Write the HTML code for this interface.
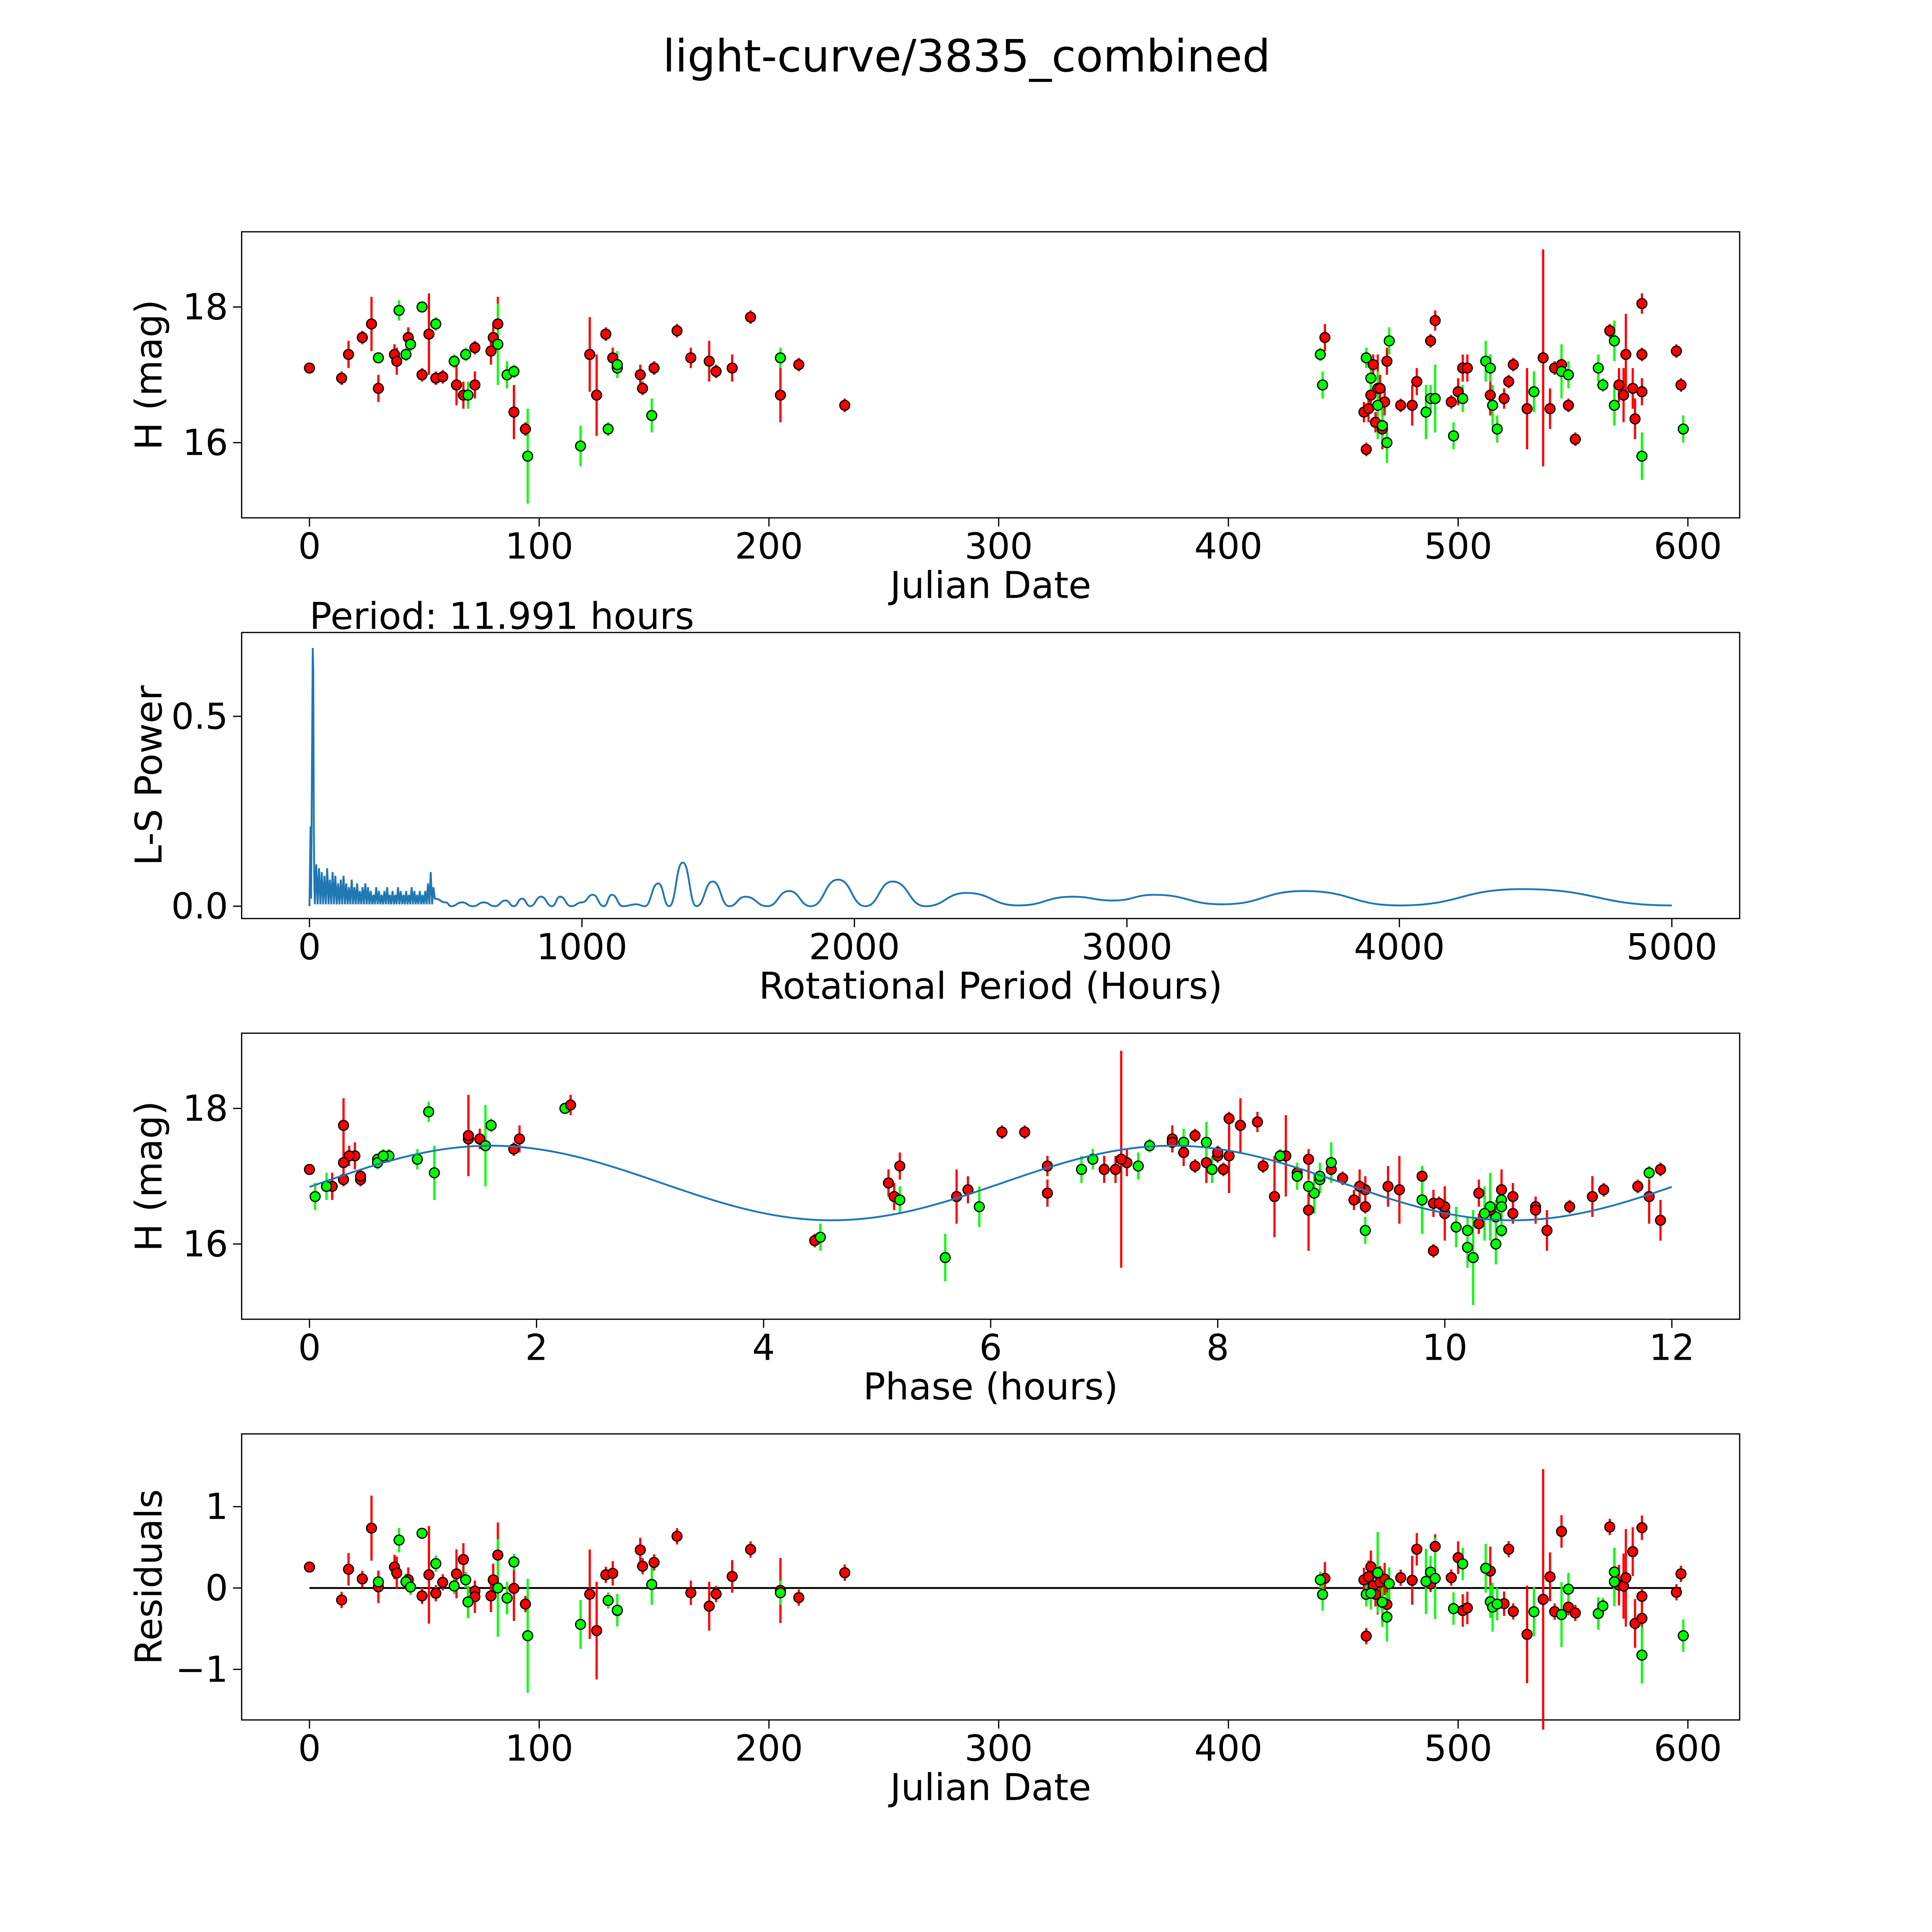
<!DOCTYPE html>
<html><head><meta charset="utf-8">
<style>
html,body{margin:0;padding:0;background:#fff;overflow:hidden;width:100vw;height:100vh;}
svg{display:block;width:100vw;height:100vh;}
text{font-family:"DejaVu Sans","Liberation Sans",sans-serif;fill:#000;}
</style></head>
<body>
<svg id="fig" xmlns="http://www.w3.org/2000/svg" viewBox="0 0 1567 1567" preserveAspectRatio="none">
<rect width="1567" height="1567" fill="#fff"/>
<text x="784" y="58" font-size="36" text-anchor="middle">light-curve/3835_combined</text>
<text x="251" y="510" font-size="30">Period: 11.991 hours</text>
<g id="g1"></g>
<g id="g2"></g>
<g id="g3"></g>
<g id="g4"></g>
</svg>
<script>
// ---- observation data ----
const times = [0,14,17,23,27,30,37,38,43,49,52,55,58,64,67,72,72,79,80,82,89,94,122,125,129,132,144,145,150,160,166,174,177,184,192,205,213,233,
39,42,44,30,49,55,63,68,69,82,86,89,95,118,130,134,134,149,205,
442,459,460,461,462,463,464,465,466,467,468,469,475,480,482,488,490,497,500,502,504,514,520,522,524,530,537,540,542,545,548,551,566,570,572,573,576,577,580,580,580,595,597,
440,441,460,462,465,467,469,470,486,488,490,498,502,512,514,515,517,533,545,548,561,563,568,568,580,598];
const mags = [17.1,16.95,17.3,17.55,17.75,16.8,17.3,17.2,17.55,17.0,17.6,16.95,16.97,16.85,16.7,17.4,16.85,17.35,17.55,17.75,16.45,16.2,17.3,16.7,17.6,17.25,17.0,16.8,17.1,17.65,17.25,17.2,17.05,17.1,17.85,16.7,17.15,16.55,
17.95,17.3,17.45,17.25,18.0,17.75,17.2,17.3,16.7,17.45,17.0,17.05,15.8,15.95,16.2,17.1,17.15,16.4,17.25,
17.55,16.45,15.9,16.5,16.7,17.15,16.3,16.8,16.8,16.2,16.6,17.2,16.55,16.55,16.9,17.5,17.8,16.6,16.75,17.1,17.1,16.7,16.65,16.9,17.15,16.5,17.25,16.5,17.1,17.15,16.55,16.05,17.65,16.85,16.7,17.3,16.8,16.35,16.75,18.05,17.3,17.35,16.85,
17.3,16.85,17.25,16.95,16.55,16.25,16.0,17.5,16.45,16.65,16.65,16.1,16.65,17.2,17.1,16.55,16.2,16.75,17.05,17.0,17.1,16.85,17.5,16.55,15.8,16.2];
const errs = [0.05,0.1,0.2,0.1,0.4,0.2,0.15,0.2,0.15,0.1,0.6,0.1,0.1,0.3,0.2,0.1,0.2,0.2,0.2,0.4,0.4,0.1,0.55,0.6,0.1,0.15,0.15,0.1,0.1,0.1,0.15,0.3,0.1,0.2,0.1,0.4,0.1,0.1,
0.15,0.1,0.1,0.05,0.05,0.1,0.1,0.1,0.2,0.6,0.2,0.1,0.7,0.3,0.1,0.1,0.2,0.25,0.15,
0.2,0.15,0.1,0.2,0.2,0.15,0.15,0.5,0.2,0.3,0.2,0.2,0.1,0.3,0.2,0.1,0.15,0.1,0.2,0.2,0.2,0.3,0.15,0.1,0.1,0.6,1.6,0.3,0.1,0.2,0.1,0.1,0.1,0.25,0.4,0.6,0.3,0.3,0.2,0.15,0.1,0.1,0.1,
0.1,0.2,0.15,0.2,0.5,0.3,0.3,0.2,0.4,0.2,0.5,0.2,0.2,0.3,0.2,0.3,0.2,0.3,0.4,0.2,0.2,0.1,0.3,0.3,0.35,0.2];
const bands = "RRRRRRRRRRRRRRRRRRRRRRRRRRRRRRRRRRRRRR" + "GGGGGGGGGGGGGGGGGGG" + "RRRRRRRRRRRRRRRRRRRRRRRRRRRRRRRRRRRRRRRRRRR" + "GGGGGGGGGGGGGGGGGGGGGGGGGG";
const phases = [0.0,0.45,0.4,1.4,0.3,9.3,0.35,0.3,1.5,0.45,1.4,0.3,9.1,9.5,10.6,1.8,0.2,7.7,7.6,8.2,10.0,10.2,8.1,8.5,7.8,8.8,9.8,11.4,11.9,6.3,6.9,7.9,8.7,9.0,8.1,11.8,8.4,10.8,
1.05,0.7,7.4,0.6,2.25,1.6,0.6,0.65,0.05,1.55,8.7,11.8,10.25,10.2,10.5,7.1,7.3,10.45,6.9,
1.85,10.6,9.9,10.8,5.15,6.5,10.3,9.6,5.8,10.9,9.9,7.2,11.1,10.0,5.1,7.6,8.35,9.95,10.3,7.1,7.0,11.3,9.2,5.1,7.8,8.8,7.15,10.4,8.05,5.2,9.3,4.45,6.1,9.25,5.7,8.6,10.5,11.9,6.5,2.3,8.0,8.0,11.7,
8.55,0.15,0.95,8.9,10.4,10.1,10.45,7.7,10.35,5.2,9.8,4.5,10.5,9.0,6.8,5.9,10.2,8.85,1.1,8.9,7.95,8.8,7.9,10.5,5.6,9.3];
// ---- periodogram data ----
const noiseStart = 20, noiseStep = 10;
const noisePeaks = [0.11,0.1,0.09,0.08,0.1,0.07,0.09,0.08,0.06,0.07,0.08,0.06,0.05,0.07,0.05,0.06,0.04,0.05,0.06,0.05,0.04,0.03,0.05,0.04,0.03,0.04,0.05,0.03,0.04,0.03,0.05,0.04,0.03,0.04,0.03,0.05,0.04,0.03,0.04,0.03,0.04,0.06,0.09,0.05];
const lsPeriods = [0,4,6,9,12,14,16,18];
const lsPowers = [0,0.21,0.02,0.35,0.68,0.62,0.2,0.05];
const smoothPeriods = [460,500,520,560,600,640,680,720,750,780,810,850,890,920,960,1000,1040,1080,1110,1150,1200,1230,1280,1320,1370,1420,1480,1540,1600,1680,1760,1840,1940,2040,2140,2260,2410,2600,2800,2950,3100,3350,3650,4000,4450,5000];
const smoothPowers = [0.02,0.01,0,0.01,0,0.01,0,0.015,0,0.02,0,0.025,0,0.025,0,0.01,0.03,0,0.03,0,0.005,0,0.06,0,0.115,0,0.065,0,0.025,0,0.04,0,0.07,0,0.065,0,0.035,0.002,0.025,0.015,0.03,0.005,0.04,0.002,0.045,0.002];
// ---- tick labels ----
const dateTicks = [0,100,200,300,400,500,600];
const magTicks = [16,18];
const powerTicks = [0.0,0.5];
const periodTicks = [0,1000,2000,3000,4000,5000];
const phaseTicks = [0,2,4,6,8,10,12];
const residTicks = [-1,0,1];
const modelMean = 16.9, modelAmp = 0.55, modelPeriod = 6.0, modelOffset = 0.1;

const NS="http://www.w3.org/2000/svg";
function mk(tag, attrs, parent){const e=document.createElementNS(NS,tag);for(const k in attrs)e.setAttribute(k,attrs[k]);parent.appendChild(e);return e;}
function model(p){return modelMean+modelAmp*Math.sin(2*Math.PI*(p-modelOffset)/modelPeriod);}
function fmt(v){return v<0?'\u2212'+Math.abs(v):String(v);}
function axes(g,box,xs,ys,xt,yt,xl,yl,yfmt){
  const [x0,y0,x1,y1]=box;
  const r=mk('rect',{x:x0,y:y0,width:x1-x0,height:y1-y0,fill:'none',stroke:'#000','stroke-width':1},g);
  
  
  xt.forEach(v=>{const x=xs(v);
    mk('line',{x1:x,x2:x,y1:y1,y2:y1+7,stroke:'#000','stroke-width':1},g);
    const t=mk('text',{x:x,y:y1+33,'font-size':29,'text-anchor':'middle'},g);t.textContent=fmt(v);
    
    });
  yt.forEach(v=>{const y=ys(v);
    mk('line',{x1:x0-7,x2:x0,y1:y,y2:y,stroke:'#000','stroke-width':1},g);
    const t=mk('text',{x:x0-11,y:y+10,'font-size':29,'text-anchor':'end'},g);t.textContent=yfmt?yfmt(v):fmt(v);
    
    });
  const a=mk('text',{x:(x0+x1)/2,y:y1+65,'font-size':30,'text-anchor':'middle'},g);a.textContent=xl;
  
  
  const b=mk('text',{x:0,y:0,'font-size':30,'text-anchor':'middle',transform:`translate(${x0-65},${(y0+y1)/2}) rotate(-90)`},g);b.textContent=yl;
  
  
}
function points(g,xv,yv,ev,xs,ys){
  for(let i=0;i<xv.length;i++){
    const c=bands[i]==='G'?'#00ff00':'#ff0000';
    const x=xs(xv[i]);
    const l=mk('line',{x1:x,x2:x,y1:ys(yv[i]-ev[i]),y2:ys(yv[i]+ev[i]),stroke:c,'stroke-width':1.8},g);
    
    
  }
  for(let i=0;i<xv.length;i++){
    const c=bands[i]==='G'?'#00ff00':'#ff0000';
    const p=mk('circle',{cx:xs(xv[i]),cy:ys(yv[i]),r:4,fill:c,stroke:'#000','stroke-width':1},g);
    
    
  }
}
// Panel 1
(function(){const g=document.getElementById('g1');
 const xs=v=>251+v*(1369-251)/600, ys=v=>359-(v-16)*55;
 axes(g,[196,188,1411,420],xs,ys,dateTicks,magTicks,'Julian Date','H (mag)');
 points(g,times,mags,errs,xs,ys);})();
// Panel 2
(function(){const g=document.getElementById('g2');
 const xs=v=>251+v*(1356-251)/5000, ys=v=>735-v*308;
 axes(g,[196,513,1411,745],xs,ys,periodTicks,powerTicks,'Rotational Period (Hours)','L-S Power',v=>v.toFixed(1));
 let d='';
 for(let i=0;i<lsPeriods.length;i++) d+=(i?'L':'M')+xs(lsPeriods[i]).toFixed(2)+','+ys(lsPowers[i]).toFixed(2);
 for(let i=0;i<noisePeaks.length;i++){const p=noiseStart+i*noiseStep;
   d+='L'+xs(p).toFixed(2)+','+ys(0.005).toFixed(2)+'L'+xs(p+noiseStep/2).toFixed(2)+','+ys(noisePeaks[i]).toFixed(2);}
 const P=smoothPeriods.map(xs), Y=smoothPowers.map(ys);
 d+='L'+P[0].toFixed(2)+','+Y[0].toFixed(2);
 for(let i=0;i<P.length-1;i++){
   const mx=(P[i]+P[i+1])/2;
   d+='C'+mx.toFixed(2)+','+Y[i].toFixed(2)+' '+mx.toFixed(2)+','+Y[i+1].toFixed(2)+' '+P[i+1].toFixed(2)+','+Y[i+1].toFixed(2);
 }
 const pl=mk('path',{d:d,fill:'none',stroke:'#1f77b4','stroke-width':1.5},g);
 
 })();
// Panel 3
(function(){const g=document.getElementById('g3');
 const xs=v=>251+v*(1356-251)/12, ys=v=>1009-(v-16)*55;
 axes(g,[196,838,1411,1070],xs,ys,phaseTicks,magTicks,'Phase (hours)','H (mag)');
 points(g,phases,mags,errs,xs,ys);
 let d='';for(let k=0;k<=240;k++){const p=k*12/240;d+=(k?'L':'M')+xs(p).toFixed(2)+','+ys(model(p)).toFixed(2);}
 const m=mk('path',{d:d,fill:'none',stroke:'#1f77b4','stroke-width':1.5},g);
 
 })();
// Panel 4
(function(){const g=document.getElementById('g4');
 const xs=v=>251+v*(1369-251)/600, ys=v=>1288-v*66;
 axes(g,[196,1163,1411,1395],xs,ys,dateTicks,residTicks,'Julian Date','Residuals');
 const zl=mk('line',{x1:xs(0),x2:xs(597),y1:ys(0),y2:ys(0),stroke:'#000','stroke-width':1.5},g);
 
 
 const res=mags.map((m,i)=>m-model(phases[i]));
 points(g,times,res,errs,xs,ys);})();
</script>
</body></html>
